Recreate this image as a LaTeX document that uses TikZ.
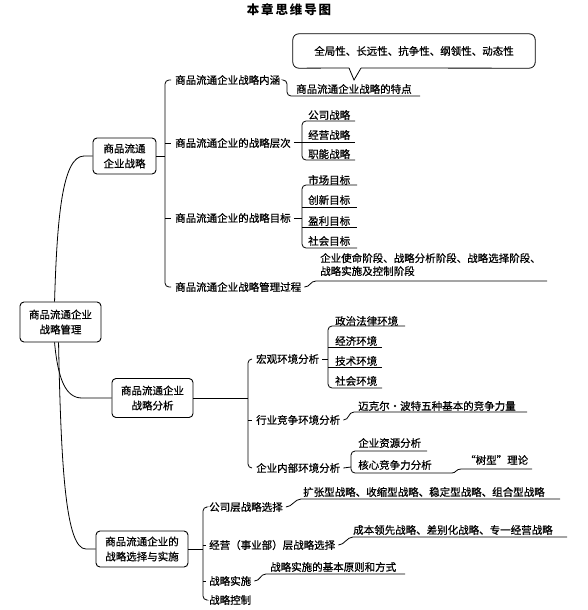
\documentclass[tikz,border=0pt]{standalone}
\usepackage{fontspec}
\setmainfont{Noto Sans CJK SC}[FakeBold=0.7]
\newfontfamily\titlefont{Noto Sans CJK SC}[LetterSpace=15]
\usetikzlibrary{calc}
\begin{document}
\begin{tikzpicture}[x=1pt,y=-1pt,
  txt/.style={font=\fontsize{10.5}{13}\selectfont, inner sep=0pt, anchor=west},
  box/.style={draw, line width=0.9pt, rounded corners=4pt, align=center, inner sep=0pt, font=\fontsize{10.5}{15}\selectfont},
  ln/.style={line width=0.8pt},
  rc/.style={ln, rounded corners=4pt}]
\useasboundingbox (0,0) rectangle (587,610);

% title
\node[font=\titlefont\bfseries\fontsize{12.5}{14}\selectfont, inner sep=0pt] (title) at (289,10) {本章思维导图};

% level 1 boxes
\node[box, minimum width=81pt, minimum height=40pt] (root) at (60.5,322) {商品流通企业\\战略管理};
\node[box, minimum width=63pt, minimum height=36pt] (box1) at (124.5,156) {商品流通\\企业战略};
\node[box, minimum width=81pt, minimum height=39pt] (box2) at (152.5,398) {商品流通企业\\战略分析};
\node[box, minimum width=92pt, minimum height=36pt] (box3) at (142,549) {商品流通企业的\\战略选择与实施};

% root connectors
\draw[ln] ($(root.north west)+(35,0)$) .. controls (57,220) and (62,156) .. (84,156) -- (box1.west);
\draw[ln] ($(root.south west)+(35,0)$) .. controls (58,380) and (66,398) .. (82,398) -- (box2.west);
\draw[ln] ($(root.south west)+(39,0)$) .. controls (61,470) and (66,549) .. (86,549) -- (box3.west);

% level 2 items
\node[txt] (a1) at (175,80) {商品流通企业战略内涵};
\node[txt] (a2) at (175,143) {商品流通企业的战略层次};
\node[txt] (a3) at (175,218) {商品流通企业的战略目标};
\node[txt] (a4) at (175,287) {商品流通企业战略管理过程};
\node[txt] (b1) at (256,359) {宏观环境分析};
\node[txt] (b2) at (256,420) {行业竞争环境分析};
\node[txt] (b3) at (256,468) {企业内部环境分析};
\node[txt] (c1) at (209,507) {公司层战略选择};
\node[txt] (c2) at (209,545) {经营（事业部）层战略选择};
\node[txt] (c3) at (209,581) {战略实施};
\node[txt] (c4) at (209,600) {战略控制};

% trunks
\draw[ln] (box1.east) -- (165,156);
\draw[rc] ($(a1.west)+(-4,0)$) -- (165,80) -- (165,287) -- ($(a4.west)+(-4,0)$);
\draw[ln] (165,143) -- ($(a2.west)+(-4,0)$);
\draw[ln] (165,218) -- ($(a3.west)+(-4,0)$);

\draw[ln] (box2.east) -- (248,398);
\draw[rc] ($(b1.west)+(-4,0)$) -- (248,359) -- (248,468) -- ($(b3.west)+(-4,0)$);
\draw[ln] (248,420) -- ($(b2.west)+(-4,0)$);

\draw[ln] (box3.east) -- (203,549);
\draw[rc] ($(c1.west)+(-3,0)$) -- (203,507) -- (203,600) -- ($(c4.west)+(-3,0)$);
\draw[ln] (203,545) -- ($(c2.west)+(-3,0)$);
\draw[ln] (203,581) -- ($(c3.west)+(-3,0)$);

% callout
\node[inner sep=0pt, minimum width=242pt, minimum height=34pt, font=\fontsize{10.5}{13}\selectfont] (callout) at (414,51) {全局性、长远性、抗争性、纲领性、动态性};
\draw[rc, rounded corners=6pt] (349,68) -- (callout.south west) -- (callout.north west) -- (callout.north east) -- (callout.south east) -- (361,68);
\draw[ln] (349,68) -- (354,80) -- (361,68);

% 内涵 -> 特点
\node[txt] (t1) at (296,89) {商品流通企业战略的特点};
\draw[rc] ($(a1.east)+(3,0)$) -- (287,80) -- (287,96) -- (420,96);

% 层次 list
\node[txt] (l1) at (308,115) {公司战略};
\node[txt] (l2) at (308,135) {经营战略};
\node[txt] (l3) at (308,154) {职能战略};
\draw[rc] (355,121) -- (302,121) -- (302,160) -- (355,160);
\draw[ln] ($(a2.east)+(3,-1)$) -- (355,142);

% 目标 list
\node[txt] (g1) at (308,180) {市场目标};
\node[txt] (g2) at (308,200) {创新目标};
\node[txt] (g3) at (308,221) {盈利目标};
\node[txt] (g4) at (308,241) {社会目标};
\draw[rc] (357,185) -- (302,185) -- (302,248) -- (357,248);
\draw[ln] (302,207) -- (357,207);
\draw[ln] (302,227) -- (357,227);
\draw[ln] ($(a3.east)+(3,0)$) -- (302,218);

% 过程
\node[txt, anchor=north west, align=left] (p1) at (320,253) {企业使命阶段、战略分析阶段、战略选择阶段、\\战略实施及控制阶段};
\draw[ln] ($(a4.east)+(3,0)$) .. controls +(6,0) and +(-6,0) .. (316,281) -- (547,281);

% 宏观 list
\node[txt] (e1) at (335,321) {政治法律环境};
\node[txt] (e2) at (335,341) {经济环境};
\node[txt] (e3) at (335,361) {技术环境};
\node[txt] (e4) at (335,381) {社会环境};
\draw[rc] (405,326) -- (328,326) -- (328,388) -- (382,388);
\draw[ln] (328,347) -- (382,347);
\draw[ln] (328,367) -- (382,367);
\draw[ln] ($(b1.east)+(3,0)$) -- (328,359);

% 行业
\node[txt] (m1) at (358,406) {迈克尔·波特五种基本的竞争力量};
\draw[ln] ($(b2.east)+(3,0)$) .. controls +(6,0) and +(-6,0) .. (354,412) -- (527,412);

% 内部
\node[txt] (r1) at (358,443) {企业资源分析};
\node[txt] (r2) at (358,465) {核心竞争力分析};
\node[txt] (tree) at (465,460) {“树型”理论};
\draw[rc] (427,451) -- (351,451) -- (351,473) -- (452,473);
\draw[ln] (452,473) .. controls (456,473) and (456,469) .. (461,469) -- (532,469);
\draw[ln] ($(b3.east)+(3,0)$) -- (351,467);

% 战略选择与实施
\node[txt] (k1) at (303,492) {扩张型战略、收缩型战略、稳定型战略、组合型战略};
\draw[ln] ($(c1.east)+(3,0)$) .. controls +(6,0) and +(-6,0) .. (301,499) -- (560,499);
\node[txt] (k2) at (353,530) {成本领先战略、差别化战略、专一经营战略};
\draw[ln] ($(c2.east)+(3,0)$) .. controls +(6,0) and +(-6,0) .. (353,537) -- (567,537);
\node[txt] (k3) at (270,567) {战略实施的基本原则和方式};
\draw[ln] ($(c3.east)+(3,0)$) .. controls +(6,0) and +(-6,0) .. (266,574) -- (405,574);
\end{tikzpicture}
\end{document}
